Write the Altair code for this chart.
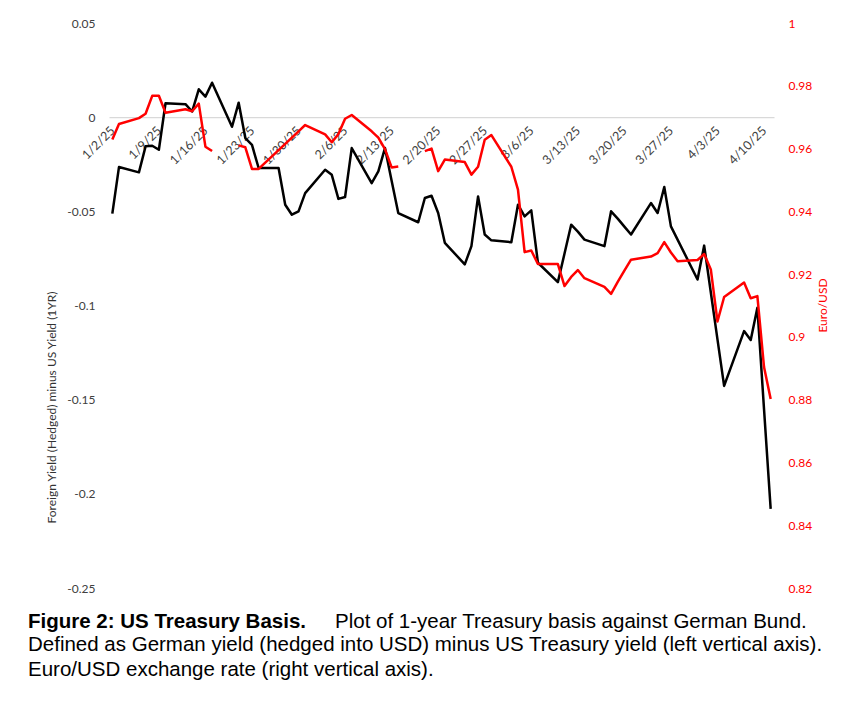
import altair as alt
import pandas as pd

# ---------------- data ----------------
dates = [
    "2025-01-02", "2025-01-03", "2025-01-06", "2025-01-07", "2025-01-08", "2025-01-09",
    "2025-01-10", "2025-01-13", "2025-01-14", "2025-01-15", "2025-01-16", "2025-01-17",
    "2025-01-20", "2025-01-21", "2025-01-22", "2025-01-23", "2025-01-24", "2025-01-27",
    "2025-01-28", "2025-01-29", "2025-01-30", "2025-01-31",
    "2025-02-03", "2025-02-04", "2025-02-05", "2025-02-06", "2025-02-07", "2025-02-10",
    "2025-02-11", "2025-02-12", "2025-02-13", "2025-02-14", "2025-02-17", "2025-02-18",
    "2025-02-19", "2025-02-20", "2025-02-21", "2025-02-24", "2025-02-25", "2025-02-26",
    "2025-02-27", "2025-02-28",
    "2025-03-03", "2025-03-04", "2025-03-05", "2025-03-06", "2025-03-07", "2025-03-10",
    "2025-03-11", "2025-03-12", "2025-03-13", "2025-03-14", "2025-03-17", "2025-03-18",
    "2025-03-19", "2025-03-20", "2025-03-21", "2025-03-24", "2025-03-25", "2025-03-26",
    "2025-03-27", "2025-03-28", "2025-03-31",
    "2025-04-01", "2025-04-02", "2025-04-03", "2025-04-04", "2025-04-07", "2025-04-08",
    "2025-04-09", "2025-04-10", "2025-04-11",
]

basis = [
    -0.0512, -0.0265, -0.0293, -0.0155, -0.0152, -0.0173, 0.0074, 0.0069, 0.0030, 0.0148,
    0.0109, 0.0183, -0.0051, 0.0077, -0.0111, -0.0147, -0.0270, -0.0270, -0.0465, -0.0518,
    -0.0500, -0.0403,
    -0.0279, -0.0306, -0.0434, -0.0424, -0.0164, -0.0350, -0.0288, -0.0164, -0.0337, -0.0509,
    -0.0558, -0.0429, -0.0417, -0.0509, -0.0667, -0.0782, -0.0685, -0.0421, -0.0623, -0.0654,
    -0.0664, -0.0465, -0.0527, -0.0495, -0.0773, -0.0876, -0.0724, -0.0571, -0.0608, -0.0650,
    -0.0685, -0.0500, -0.0539, -0.0581, -0.0623, -0.0456, -0.0509, -0.0371, -0.0580, -0.0650,
    -0.0862,
    -0.0682, -0.0931, -0.1180, -0.1427, -0.1136, -0.1183, -0.1012, -0.1550, -0.2080,
]

eurusd = [
    0.9629, 0.9678, 0.9697, 0.9711, 0.9768, 0.9768, 0.9714, 0.9725, 0.9719, 0.9743,
    0.9606, 0.9592, None, 0.9610, 0.9604, 0.9535, 0.9535, 0.9595, 0.9615, 0.9635,
    0.9655, 0.9675,
    0.9645, 0.9620, 0.9646, 0.9695, 0.9707, 0.9655, 0.9635, 0.9598, 0.9540, 0.9543,
    None, 0.9592, 0.9600, 0.9528, 0.9565, 0.9557, 0.9517, 0.9542, 0.9628, 0.9643,
    0.9542, 0.9469, 0.9270, 0.9275, 0.9232, 0.9232, 0.9162, 0.9191, 0.9213, 0.9187,
    0.9159, 0.9137, 0.9175, 0.9211, 0.9246, 0.9256, 0.9267, 0.9302, 0.9269, 0.9241,
    0.9245,
    0.9264, 0.9215, 0.9049, 0.9127, 0.9173, 0.9123, 0.9130, 0.8904, 0.8802,
]

x_tick_dates = [
    (1, 2), (1, 9), (1, 16), (1, 23), (1, 30), (2, 6), (2, 13), (2, 20), (2, 27),
    (3, 6), (3, 13), (3, 20), (3, 27), (4, 3), (4, 10),
]
left_ticks = [0.05, 0, -0.05, -0.1, -0.15, -0.2, -0.25]
right_ticks = [1, 0.98, 0.96, 0.94, 0.92, 0.9, 0.88, 0.86, 0.84, 0.82]

left_title = "Foreign Yield (Hedged) minus US Yield (1YR)"
right_title = "Euro/USD"
caption_bold = "Figure 2: US Treasury Basis."
caption_line1 = "Plot of 1-year Treasury basis against German Bund."
caption_line2 = "Defined as German yield (hedged into USD) minus US Treasury yield (left vertical axis)."
caption_line3 = "Euro/USD exchange rate (right vertical axis)."

# ---------------- layout ----------------
W, H = 665, 565
L_DOM = [-0.25, 0.05]
R_DOM = [0.82, 1.0]
zero_offset = -H * (0 - L_DOM[0]) / (L_DOM[1] - L_DOM[0])

df = pd.DataFrame({"date": dates, "basis": basis, "eurusd": eurusd})
df["seg"] = df["eurusd"].isna().cumsum()
red_df = df.dropna(subset=["eurusd"])

x_enc = alt.X(
    "date:T",
    scale=alt.Scale(
        type="utc",
        nice=False,
        domain=[
            alt.DateTime(year=2025, month=1, date=1, hours=12, utc=True),
            alt.DateTime(year=2025, month=4, date=11, hours=12, utc=True),
        ],
    ),
    axis=alt.Axis(
        title="",
        values=[alt.DateTime(year=2025, month=m, date=d, utc=True) for m, d in x_tick_dates],
        labelExpr="utcFormat(datum.value, '%-m/%-d/%y')",
        labelAngle=315,
        labelAlign="right",
        labelBaseline="middle",
        labelPadding=11,
        labelFontSize=12.5,
        labelColor="#404040",
        labelOverlap=False,
        labelFlush=False,
        ticks=False,
        tickSize=0,
        grid=False,
        domain=True,
        domainColor="#d9d9d9",
        domainWidth=1.2,
        offset=zero_offset,
    ),
)

black = alt.Chart(df).mark_line(color="#000000", strokeWidth=2.5, strokeJoin="round").encode(
    x=x_enc,
    y=alt.Y(
        "basis:Q",
        scale=alt.Scale(domain=L_DOM, nice=False, zero=False),
        axis=alt.Axis(
            orient="left",
            values=left_ticks,
            labelExpr="toString(datum.value)",
            labelFontSize=12,
            labelColor="#404040",
            labelPadding=14,
            ticks=False,
            tickSize=0,
            domain=False,
            grid=False,
            title=left_title,
            titleFontSize=12,
            titleFontWeight="normal",
            titleColor="#333333",
            titleAngle=270,
            titleAlign="center",
            titleBaseline="middle",
            titleX=-58,
            titleY=384,
        ),
    ),
)

red = alt.Chart(red_df).mark_line(color="#ff0000", strokeWidth=2.5, strokeJoin="round").encode(
    x=x_enc,
    y=alt.Y(
        "eurusd:Q",
        scale=alt.Scale(domain=R_DOM, nice=False, zero=False),
        axis=alt.Axis(
            orient="right",
            values=right_ticks,
            labelExpr="toString(datum.value)",
            labelFontSize=12,
            labelColor="#ff0000",
            labelPadding=14,
            ticks=False,
            tickSize=0,
            domain=False,
            grid=False,
            title=right_title,
            titleFontSize=12,
            titleFontWeight="normal",
            titleColor="#ff0000",
            titleAngle=270,
            titleAlign="center",
            titleBaseline="middle",
            titleX=48,
            titleY=282,
        ),
    ),
    detail="seg:N",
)


def caption(text, x, y, bold=False):
    return alt.Chart(pd.DataFrame({"t": [text]})).mark_text(
        align="left",
        baseline="alphabetic",
        font="Liberation Sans",
        fontSize=20.5,
        fontWeight="bold" if bold else "normal",
        color="#000000",
    ).encode(x=alt.value(x), y=alt.value(y), text="t:N")


caps = [
    caption(caption_bold, -81, 604.5, bold=True),
    caption(caption_line1, 226, 604.5),
    caption(caption_line2, -81, 628),
    caption(caption_line3, -81, 652.5),
]

chart = (
    alt.layer(black, red, *caps)
    .resolve_scale(y="independent")
    .properties(
        width=W,
        height=H,
        autosize=alt.AutoSizeParams(type="none"),
        padding={"left": 101, "top": 15, "right": 80, "bottom": 110},
    )
    .configure_view(strokeWidth=0)
    .configure_axis(labelFont="Lato", titleFont="Lato")
)

chart.save("out.html", embed_options={"renderer": "svg", "actions": False})
